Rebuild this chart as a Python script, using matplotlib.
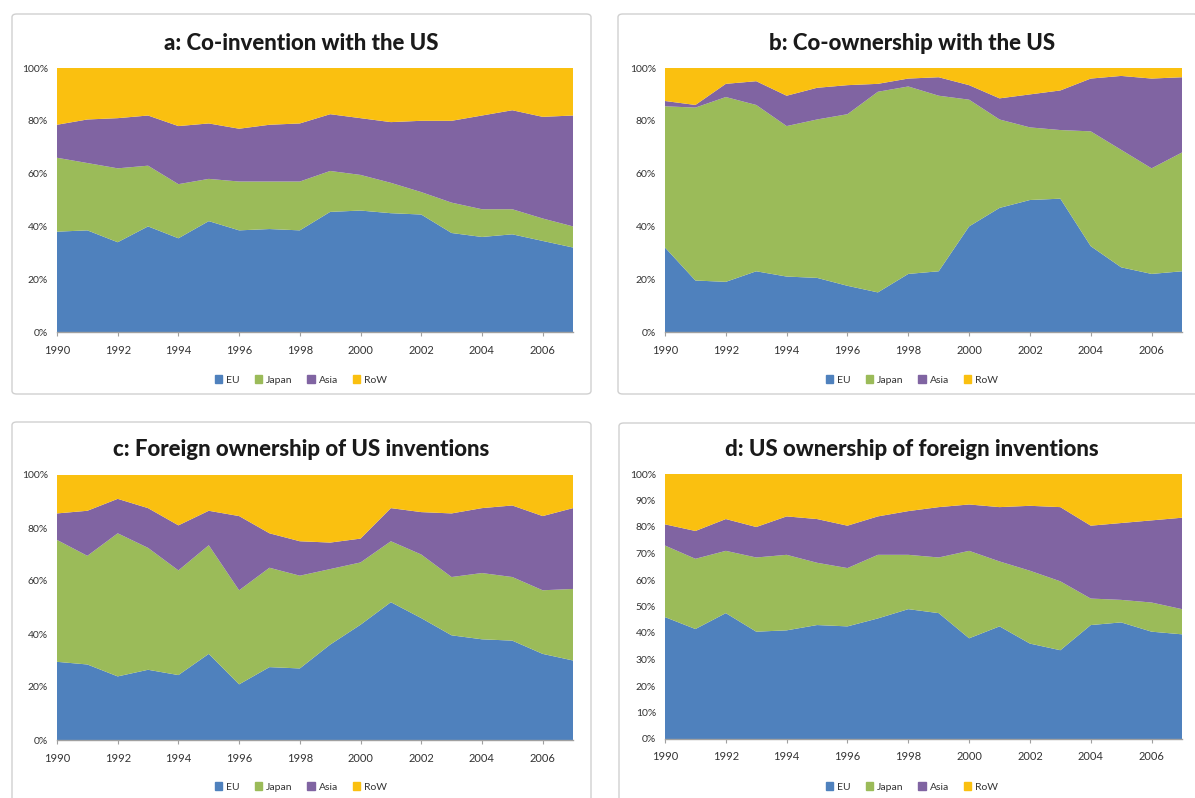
import matplotlib.pyplot as plt
import matplotlib.patches as patches
from matplotlib.ticker import PercentFormatter, MultipleLocator

years = list(range(1990, 2008))
regions = ["EU", "Japan", "Asia", "RoW"]
colors = ["#4F81BD", "#9BBB59", "#8064A2", "#FAC010"]

# a: co-invention with the US (shares, %)
a_eu = [38, 38.5, 34, 40, 35.5, 42, 38.5, 39, 38.5, 45.5, 46, 45, 44.5, 37.5, 36, 37, 34.5, 32]
a_japan = [28, 25.5, 28, 23, 20.5, 16, 18.5, 18, 18.5, 15.5, 13.5, 11.5, 8.5, 11.5, 10.5, 9.5, 8.5, 8]
a_asia = [12.5, 16.5, 19, 19, 22, 21, 20, 21.5, 22, 21.5, 21.5, 23, 27, 31, 35.5, 37.5, 38.5, 42]
a_row = [21.5, 19.5, 19, 18, 22, 21, 23, 21.5, 21, 17.5, 19, 20.5, 20, 20, 18, 16, 18.5, 18]

# b: co-ownership with the US
b_eu = [32, 19.5, 19, 23, 21, 20.5, 17.5, 15, 22, 23, 40, 47, 50, 50.5, 32.5, 24.5, 22, 23]
b_japan = [53.5, 65.5, 70, 63, 57, 60, 65, 76, 71, 66.5, 48, 33.5, 27.5, 26, 43.5, 44.5, 40, 45]
b_asia = [2, 1, 5, 9, 11.5, 12, 11, 3, 3, 7, 5.5, 8, 12.5, 15, 20, 28, 34, 28.5]
b_row = [12.5, 14, 6, 5, 10.5, 7.5, 6.5, 6, 4, 3.5, 6.5, 11.5, 10, 8.5, 4, 3, 4, 3.5]

# c: foreign ownership of US inventions
c_eu = [29.5, 28.5, 24, 26.5, 24.5, 32.5, 21, 27.5, 27, 36, 43.5, 52, 46, 39.5, 38, 37.5, 32.5, 30]
c_japan = [46, 41, 54, 46, 39.5, 41, 35.5, 37.5, 35, 28.5, 23.5, 23, 24, 22, 25, 24, 24, 27]
c_asia = [10, 17, 13, 15, 17, 13, 28, 13, 13, 10, 9, 12.5, 16, 24, 24.5, 27, 28, 30.5]
c_row = [14.5, 13.5, 9, 12.5, 19, 13.5, 15.5, 22, 25, 25.5, 24, 12.5, 14, 14.5, 12.5, 11.5, 15.5, 12.5]

# d: US ownership of foreign inventions
d_eu = [46, 41.5, 47.5, 40.5, 41, 43, 42.5, 45.5, 49, 47.5, 38, 42.5, 36, 33.5, 43, 44, 40.5, 39.5]
d_japan = [27, 26.5, 23.5, 28, 28.5, 23.5, 22, 24, 20.5, 21, 33, 24.5, 27.5, 26, 10, 8.5, 11, 9.5]
d_asia = [8, 10.5, 12, 11.5, 14.5, 16.5, 16, 14.5, 16.5, 19, 17.5, 20.5, 24.5, 28, 27.5, 29, 31, 34.5]
d_row = [19, 21.5, 17, 20, 16, 17, 19.5, 16, 14, 12.5, 11.5, 12.5, 12, 12.5, 19.5, 18.5, 17.5, 16.5]

W, H = 1195, 798
fig = plt.figure(figsize=(W / 100, H / 100), dpi=100)
plt.rcParams['font.family'] = ['Lato', 'DejaVu Sans']


def px(x0, y0, x1, y1):
    # pixel box (top-left origin) -> figure fraction rect
    return [x0 / W, 1 - y1 / H, (x1 - x0) / W, (y1 - y0) / H]


def frame(x0, y0, x1, y1):
    box = patches.FancyBboxPatch((x0 / W, 1 - y1 / H), (x1 - x0) / W, (y1 - y0) / H,
                                 boxstyle="round,pad=0,rounding_size=0.004",
                                 transform=fig.transFigure, facecolor="none",
                                 edgecolor="#D0D0D0", linewidth=1.0, zorder=-1)
    fig.patches.append(box)


def panel(rect, fr, title, series, step, cx, title_y, legend_y):
    frame(*fr)
    ax = fig.add_axes(px(*rect))
    ax.stackplot(years, *series, colors=colors, labels=regions, linewidth=0)
    ax.set_xlim(1990, 2007)
    ax.set_ylim(0, 100)
    ax.yaxis.set_major_locator(MultipleLocator(step))
    ax.yaxis.set_major_formatter(PercentFormatter(decimals=0))
    ax.set_xticks(range(1990, 2007, 2))
    for s in ["top", "right", "left"]:
        ax.spines[s].set_visible(False)
    ax.spines["bottom"].set_color("#A0A0A0")
    ax.spines["bottom"].set_linewidth(1.0)
    ax.tick_params(axis="y", length=0, labelsize=7.5, colors="#333333", pad=6.5)
    ax.tick_params(axis="x", length=3, color="#A0A0A0",
                   labelsize=8, labelcolor="#333333", pad=6)
    fig.text(cx / W, 1 - title_y / H, title, ha="center", va="center",
             fontsize=16, fontweight="black", color="#1a1a1a")
    handles = [patches.Patch(color=c) for c in colors]
    fig.legend(handles, regions, loc="center", bbox_to_anchor=(cx / W, 1 - legend_y / H),
               ncol=4, frameon=False, fontsize=7.5, handlelength=0.7, handleheight=0.7,
               handletextpad=0.4, columnspacing=1.4, labelcolor="#333333")
    return ax


panel((57, 68, 573, 332), (12, 14, 591, 394), "a: Co-invention with the US",
      [a_eu, a_japan, a_asia, a_row], 20, 301, 43, 380)
panel((665, 68, 1182, 332), (618, 14, 1200, 394), "b: Co-ownership with the US",
      [b_eu, b_japan, b_asia, b_row], 20, 912, 43, 380)
panel((57, 475, 573, 740), (12, 422, 591, 805), "c: Foreign ownership of US inventions",
      [c_eu, c_japan, c_asia, c_row], 20, 301, 450, 787)
panel((665, 474, 1182, 739), (619, 423, 1200, 805), "d: US ownership of foreign inventions",
      [d_eu, d_japan, d_asia, d_row], 10, 912, 450, 787)

fig.savefig("out.png", dpi=100)
